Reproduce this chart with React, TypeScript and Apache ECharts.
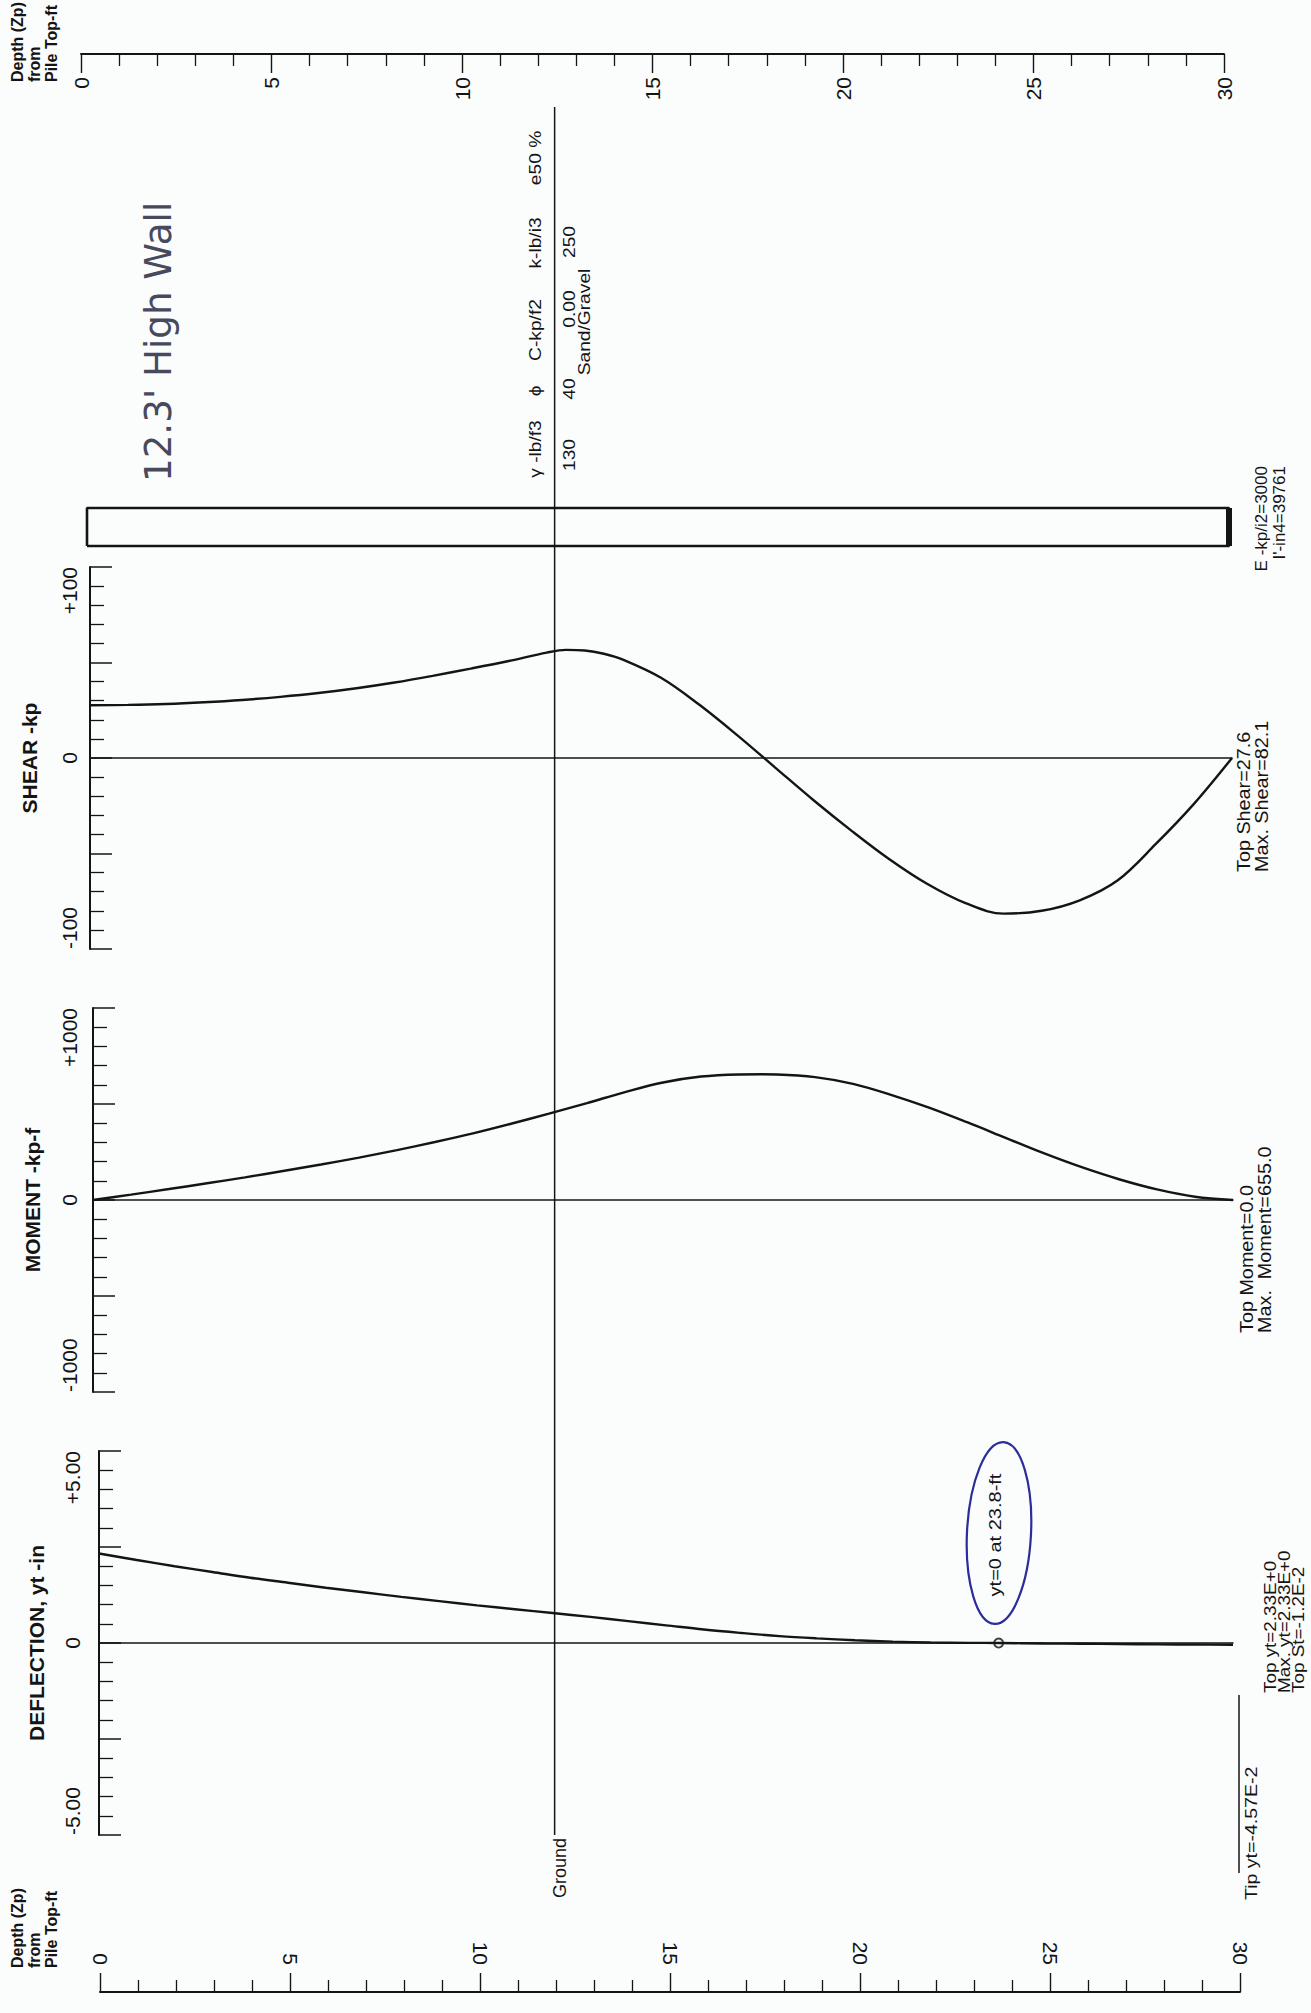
import React, { useEffect, useRef } from "react";
import * as echarts from "echarts";

const FONT = '"Liberation Sans", Arial, Helvetica, sans-serif';
const INK = "#141414";

// Depth ruler (ft from pile top)
const depthMin = 0;
const depthMax = 30;
const depthMajor = 5;

// Ground / pile geometry (ft)
const groundDepth = 12.3;
const pileTop = 0;
const pileTip = 30;

// Shear (kp) vs depth (ft)
const shearDepth = [0, 1, 2, 3, 4, 5, 6, 7, 8, 9, 10, 11, 12, 12.5, 13, 13.5, 14, 15, 16, 17, 18, 19, 20, 21, 22, 23, 24, 25, 26, 27, 28, 29, 30];
const shearKp = [27.6, 27.8, 28.3, 29.2, 30.4, 32.0, 34.0, 36.5, 39.5, 43.0, 46.8, 50.8, 55.2, 56.6, 56.3, 54.6, 51.5, 42, 28, 12, -5, -22, -38, -53, -66, -76, -81.5, -80, -74.5, -64, -45, -24, 0];

// Moment (kp-ft) vs depth (ft)
const momentDepth = [0, 1, 2, 3, 4, 5, 6, 7, 8, 9, 10, 11, 12, 13, 14, 15, 16, 17, 17.6, 18, 19, 20, 21, 22, 23, 24, 25, 26, 27, 28, 29, 30];
const momentKpf = [0, 28, 57, 87, 118, 151, 185, 221, 260, 302, 347, 397, 450, 505, 562, 612, 643, 654, 655, 654, 640, 605, 548, 481, 405, 325, 245, 172, 108, 55, 17, 0];

// Deflection (in) vs depth (ft)
const deflDepth = [0, 1, 2, 3, 4, 5, 6, 7, 8, 9, 10, 11, 12, 13, 14, 15, 16, 17, 18, 19, 20, 21, 22, 23, 23.8, 25, 26, 27, 28, 29, 30];
const deflIn = [2.33, 2.16, 2.0, 1.85, 1.7, 1.57, 1.44, 1.32, 1.2, 1.09, 0.98, 0.88, 0.78, 0.68, 0.57, 0.46, 0.35, 0.26, 0.18, 0.12, 0.07, 0.035, 0.014, 0.004, 0, -0.012, -0.02, -0.028, -0.035, -0.041, -0.0457];
const zeroDeflDepth = 23.8;

// Soil layer table
const soilHeaders = ["γ -lb/f3", "ϕ", "C-kp/f2", "k-lb/i3", "e50 %"];
const soilValues = ["130", "40", "0.00", "250"];
const soilType = "Sand/Gravel";

const pair = (xs: number[], ys: number[]) => xs.map((x, i) => [x, ys[i]]);

function vText(text: string, x: number, y: number, o: any = {}) {
  return {
    type: "text",
    x,
    y,
    rotation: Math.PI / 2,
    scaleX: o.sx ?? 1,
    z: 50,
    style: {
      text,
      fill: o.color ?? INK,
      fontSize: o.size ?? 16,
      fontWeight: o.weight ?? "normal",
      fontFamily: o.family ?? FONT,
      align: o.align ?? "left",
      verticalAlign: o.va ?? "top",
      lineHeight: o.lh ?? Math.round((o.size ?? 16) * 1.05),
    },
  };
}

function rulerAxis(gridIndex: number, position: string, margin: number) {
  return {
    type: "value",
    gridIndex,
    position,
    min: depthMin,
    max: depthMax,
    interval: depthMajor,
    axisLine: { show: true, onZero: false, lineStyle: { color: INK, width: 2 } },
    axisTick: { show: true, length: 19, lineStyle: { color: INK, width: 1.4 } },
    minorTick: { show: true, splitNumber: 5, length: 12, lineStyle: { color: INK, width: 1.3 } },
    axisLabel: { show: true, rotate: 90, margin, fontSize: 21, color: INK, fontFamily: FONT },
    splitLine: { show: false },
    minorSplitLine: { show: false },
  };
}

function plotXAxis(gridIndex: number) {
  return {
    type: "value",
    gridIndex,
    min: depthMin,
    max: depthMax,
    axisLine: { show: true, onZero: true, lineStyle: { color: INK, width: 1.5 } },
    axisTick: { show: false },
    axisLabel: { show: false },
    splitLine: { show: false },
  };
}

function plotYAxis(gridIndex: number, lim: number, labels: string[], name: string, margin: number, nameGap: number) {
  return {
    type: "value",
    gridIndex,
    position: "left",
    min: -lim,
    max: lim,
    interval: lim / 2,
    name,
    nameLocation: "middle",
    nameRotate: 90,
    nameGap,
    nameTextStyle: { fontSize: 21, fontWeight: "bold", color: INK, fontFamily: FONT },
    axisLine: { show: true, onZero: false, lineStyle: { color: INK, width: 2 } },
    axisTick: { show: true, inside: true, length: 22, lineStyle: { color: INK, width: 1.5 } },
    minorTick: { show: true, splitNumber: 5, length: 14, lineStyle: { color: INK, width: 1.3 } },
    axisLabel: {
      show: true,
      rotate: 90,
      margin,
      fontSize: 21,
      color: INK,
      fontFamily: FONT,
      alignMaxLabel: "right",
      alignMinLabel: "left",
      formatter: (v: number) => (v === lim ? labels[0] : v === 0 ? labels[1] : v === -lim ? labels[2] : ""),
    },
    splitLine: { show: false },
    minorSplitLine: { show: false },
  };
}

const hidden = (gridIndex: number, min: number, max: number) => ({ type: "value", gridIndex, min, max, show: false });

function curve(xi: number, data: number[][], width = 2.4) {
  return {
    type: "line",
    xAxisIndex: xi,
    yAxisIndex: xi,
    data,
    symbol: "none",
    smooth: 0.35,
    clip: false,
    lineStyle: { color: INK, width },
    silent: true,
  };
}

function buildOption() {
  return {
    animation: false,
    backgroundColor: "#fbfcfc",
    grid: [
      { left: 81, width: 1143, top: 0, height: 54 }, // 0 top ruler
      { left: 86, width: 1143, top: 107, height: 1728 }, // 1 ground line
      { left: 87, width: 1142, top: 508, height: 38 }, // 2 pile
      { left: 90, width: 1142, top: 567, height: 382 }, // 3 shear
      { left: 93, width: 1140, top: 1008, height: 384 }, // 4 moment
      { left: 99, width: 1134, top: 1451, height: 384 }, // 5 deflection
      { left: 100, width: 1140, top: 1992, height: 10 }, // 6 bottom ruler
    ],
    xAxis: [
      rulerAxis(0, "bottom", 23),
      hidden(1, depthMin, depthMax),
      hidden(2, depthMin, depthMax),
      plotXAxis(3),
      plotXAxis(4),
      plotXAxis(5),
      rulerAxis(6, "top", 27),
    ],
    yAxis: [
      hidden(0, 0, 1),
      hidden(1, 0, 1),
      hidden(2, 0, 1),
      plotYAxis(3, 100, ["+100", "0", "-100"], "SHEAR -kp", 10, 50),
      plotYAxis(4, 1000, ["+1000", "0", "-1000"], "MOMENT -kp-f", 13, 50),
      plotYAxis(5, 5, ["+5.00", "0", "-5.00"], "DEFLECTION, yt -in", 16, 52),
      hidden(6, 0, 1),
    ],
    series: [
      { ...curve(1, [[groundDepth, 0], [groundDepth, 1]], 1.5), smooth: false },
      { ...curve(2, [[pileTop, 0], [pileTip, 0], [pileTip, 1], [pileTop, 1], [pileTop, 0]], 2.6), smooth: false },
      { ...curve(2, [[pileTip, 0], [pileTip, 1]], 6), smooth: false },
      curve(3, pair(shearDepth, shearKp)),
      curve(4, pair(momentDepth, momentKpf)),
      curve(5, pair(deflDepth, deflIn)),
      {
        type: "scatter",
        xAxisIndex: 5,
        yAxisIndex: 5,
        data: [[zeroDeflDepth, 0]],
        symbol: "circle",
        symbolSize: 9,
        itemStyle: { color: "#fbfcfc", borderColor: INK, borderWidth: 2 },
        silent: true,
      },
    ],
    graphic: [
      vText("Depth (Zp)\nfrom\nPile Top-ft", 9, 82, { size: 16, weight: "bold", lh: 17 }),
      vText("Depth (Zp)\nfrom\nPile Top-ft", 9, 1968, { size: 16, weight: "bold", lh: 17 }),
      vText("12.3' High Wall", 138, 482, { size: 38, sx: 0.98, color: "#464a5c", family: '"DejaVu Sans", sans-serif' }),
      // soil table
      vText(soilHeaders[0], 536, 449, { align: "center", va: "middle", sx: 1.2 }),
      vText(soilHeaders[1], 536, 391, { align: "center", va: "middle", sx: 1.2 }),
      vText(soilHeaders[2], 536, 330, { align: "center", va: "middle", sx: 1.2 }),
      vText(soilHeaders[3], 536, 243, { align: "center", va: "middle", sx: 1.2 }),
      vText(soilHeaders[4], 536, 158, { align: "center", va: "middle", sx: 1.2 }),
      vText(soilValues[0], 570, 455, { align: "center", va: "middle", sx: 1.2 }),
      vText(soilValues[1], 570, 389, { align: "center", va: "middle", sx: 1.2 }),
      vText(soilValues[2], 570, 309, { align: "center", va: "middle", sx: 1.2 }),
      vText(soilValues[3], 570, 242, { align: "center", va: "middle", sx: 1.2 }),
      vText(soilType, 585, 322, { align: "center", va: "middle", sx: 1.2 }),
      // pile properties
      vText("E -kp/i2=3000\nI'-in4=39761", 1252, 466, { align: "right", size: 17, lh: 18, sx: 1.0 }),
      // shear / moment / deflection summaries
      vText("Top Shear=27.6\nMax. Shear=82.1", 1235, 872, { size: 18, lh: 18, sx: 1.1 }),
      vText("Top Moment=0.0\nMax.  Moment=655.0", 1238, 1333, { size: 18, lh: 18, sx: 1.1 }),
      vText("Top yt=2.33E+0\nMax. yt=2.33E+0\nTop St=-1.2E-2", 1264, 1693, { size: 16, lh: 14, sx: 1.18 }),
      vText("Tip yt=-4.57E-2", 1242, 1900, { size: 17, sx: 1.15 }),
      { type: "line", z: 50, shape: { x1: 1239, y1: 1695, x2: 1239, y2: 1873 }, style: { stroke: INK, lineWidth: 1.5 } },
      vText("yt=0 at 23.8-ft", 996, 1535, { align: "center", va: "middle", size: 16, sx: 1.25 }),
      {
        type: "ellipse",
        z: 50,
        x: 999,
        y: 1533,
        rotation: -0.05,
        shape: { cx: 0, cy: 0, rx: 32, ry: 91 },
        style: { fill: "none", stroke: "#2b2e98", lineWidth: 2.2 },
      },
      vText("Ground", 560, 1868, { align: "center", va: "middle", size: 18 }),
    ],
  };
}

export default function App() {
  const ref = useRef<HTMLDivElement>(null);
  useEffect(() => {
    document.body.style.margin = "0";
    document.body.style.overflow = "hidden";
    const chart = echarts.init(ref.current!, null, { renderer: "svg" });
    chart.setOption(buildOption() as any);
    return () => chart.dispose();
  }, []);
  return <div ref={ref} style={{ width: 1311, height: 2013 }} />;
}
